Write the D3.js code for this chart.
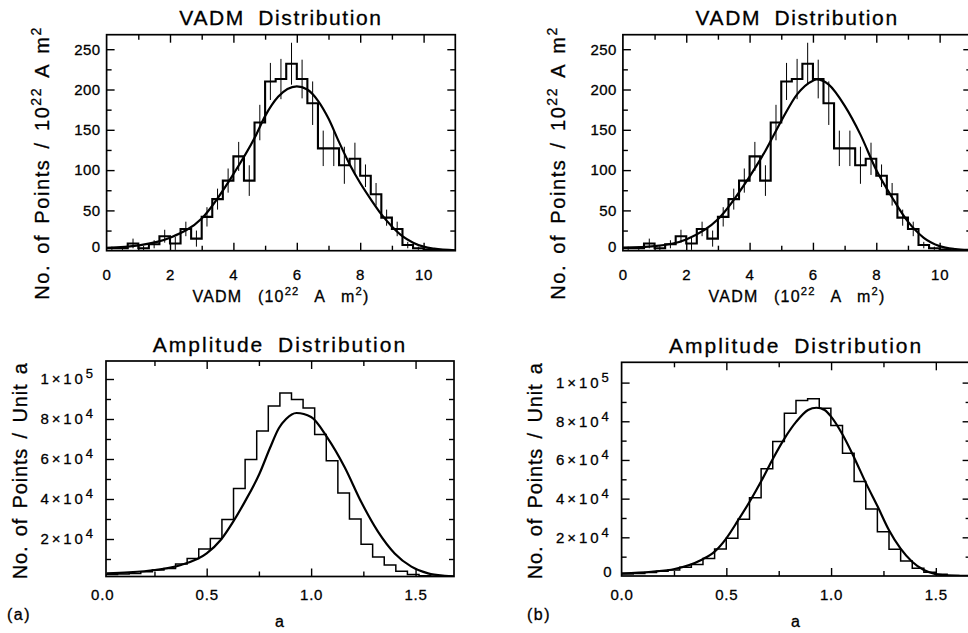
<!DOCTYPE html>
<html>
<head>
<meta charset="utf-8">
<script src="https://cdn.jsdelivr.net/npm/d3@7"></script>
<style>
  body { margin: 0; background: #fff; }
  svg text { font-family: "Liberation Sans", Arial, Helvetica, sans-serif; fill: #000; stroke: #000; stroke-width: 0.3px; }
</style>
</head>
<body>
<div id="chart"></div>
<script>
// ---- data ----
// VADM histogram (same in both top panels), bins of 1/3 from 0 to 11
var vadmBinStart = 0;
var vadmBinWidth = 1 / 3;
var vadmCounts = [3, 3, 9, 3, 8, 18, 9, 27, 15, 42, 64, 87, 117, 87, 159, 210, 213, 232, 213, 183,
                  127, 127, 106, 114, 93, 70, 41, 27, 7, 3, 1.5, 0.5, 0];
var vadmErrors = [2, 2, 6, 3, 5, 8, 8, 9, 10, 12, 13, 15, 18, 19, 22, 23, 25, 26, 24, 27,
                  22, 22, 23, 20, 14, 14, 10, 9, 4, 2, 1, 1, 0];

// fitted curves, top panels
var vadmFitA = [[0, 3.5], [1, 6.5], [2, 16], [3, 40], [4, 95], [4.67, 140], [5, 167], [5.41, 191],
                [6, 204], [6.33, 200], [6.67, 186], [7, 164], [7.33, 135], [7.67, 107], [8, 84],
                [8.33, 64], [8.67, 45], [9, 30], [9.33, 18], [9.67, 10], [10, 5], [10.33, 2.5], [11, 0.5]];
var vadmFitB = [[0, 3.7], [1, 5.7], [2, 14], [3, 39], [4, 92], [4.5, 124], [5, 161], [5.5, 194],
                [6, 211], [6.11, 212.5], [6.5, 206], [7, 180], [7.5, 144], [8, 100], [8.5, 66],
                [9, 36], [9.5, 16], [10, 5.7], [10.5, 2], [11, 0.8]];

// amplitude histograms, 30 bins
var ampBinStartA = 0.018, ampBinWidthA = 0.0555;
var ampCountsA = [2300, 2500, 2800, 3600, 4500, 5300, 7500, 10300, 15000, 20300, 29800, 45300, 59800,
                  74000, 86500, 93000, 89800, 85500, 72200, 59100, 43000, 30000, 17400, 11000, 7000,
                  3900, 2200, 1650, 1350, 1300];
var ampBinStartB = 0, ampBinWidthB = 0.0555;
var ampCountsB = [1000, 1300, 1800, 2400, 3100, 4500, 6000, 9100, 14000, 19500, 29300, 40500, 55500,
                  69500, 84200, 90700, 91600, 86700, 77800, 63500, 48800, 34700, 22900, 13800, 7800,
                  4000, 1900, 900, 300, 0];

var ampFitA = [[0.021, 2800], [0.128, 3300], [0.253, 4500], [0.377, 7000], [0.5, 12800], [0.567, 19500],
               [0.627, 28700], [0.683, 38700], [0.752, 52500], [0.803, 65500], [0.846, 75500],
               [0.88, 80000], [0.93, 83000], [1.0, 81000], [1.08, 70300], [1.16, 56000], [1.24, 38500],
               [1.32, 23700], [1.4, 12800], [1.48, 6200], [1.56, 2800], [1.64, 1600], [1.684, 1300]];
var ampFitB = [[0.002, 1400], [0.142, 2200], [0.253, 3600], [0.38, 8300], [0.444, 12600], [0.5, 19500],
               [0.555, 28600], [0.611, 38400], [0.667, 49100], [0.723, 60800], [0.778, 71200],
               [0.834, 79800], [0.89, 85800], [0.93, 87000], [0.969, 85800], [1.0, 82400],
               [1.056, 72900], [1.112, 60800], [1.167, 47900], [1.223, 35800], [1.276, 23800],
               [1.331, 14300], [1.387, 7400], [1.443, 3100], [1.499, 1000], [1.574, 200], [1.666, 0]];

// ticks
var vadmMajor = [0, 2, 4, 6, 8, 10];
var vadmMinor = [1, 3, 5, 7, 9];
var countMajor = [0, 50, 100, 150, 200, 250];
var countMinor = [25, 75, 125, 175, 225];
var aMajor = [0, 0.5, 1.0, 1.5];
var aMinor = [0.25, 0.75, 1.25];
var ampMajor = [0, 20000, 40000, 60000, 80000, 100000];
var ampMinor = [10000, 30000, 50000, 70000, 90000];

var W = 968, H = 633;
var svg = d3.select("#chart").append("svg")
  .attr("width", W)
  .attr("height", H);
svg.append("rect").attr("width", W).attr("height", H).attr("fill", "#fff");

// text with superscripts: parts = [[string, isSup], ...]
function richText(sel, parts, size) {
  var raised = false;
  parts.forEach(function(p) {
    var ts = sel.append("tspan").text(p[0]);
    if (p[1]) {
      ts.attr("font-size", size * 0.7);
      if (!raised) { ts.attr("dy", -0.42 * size); raised = true; }
    } else if (raised) {
      ts.attr("dy", 0.42 * size);
      raised = false;
    }
  });
}

function plainY(t, d) {
  t.attr("letter-spacing", 0.4).text(d);
}

function ampLabel(t, d) {
  if (d === 0) { t.text("0"); return; }
  var e = Math.floor(Math.log10(d) + 1e-9);
  var m = Math.round(d / Math.pow(10, e));
  t.attr("letter-spacing", 2.9);
  t.append("tspan").text(m + "×10");
  t.append("tspan").attr("dy", -6).attr("font-size", 13).text(e);
}

function drawPanel(p) {
  var x = d3.scaleLinear().domain(p.xDomain).range([p.left, p.right]);
  var y = d3.scaleLinear().domain(p.yDomain).range([p.bottom, p.top]);
  var g = svg.append("g");

  g.append("clipPath").attr("id", "clip-" + p.id)
    .append("rect")
    .attr("x", p.left).attr("y", p.top)
    .attr("width", p.right - p.left).attr("height", p.bottom - p.top);
  var plot = g.append("g").attr("clip-path", "url(#clip-" + p.id + ")");

  // histogram as steps
  var steps = p.counts.map(function(c, i) { return [p.binStart + i * p.binWidth, c]; });
  steps.push([p.binStart + p.counts.length * p.binWidth, p.counts[p.counts.length - 1]]);
  plot.append("path")
    .datum(steps)
    .attr("fill", "none")
    .attr("stroke", "#000")
    .attr("stroke-width", p.histWidth)
    .attr("d", d3.line()
      .x(d => x(d[0]))
      .y(d => y(Math.max(d[1], p.yDomain[0])))
      .curve(d3.curveStepAfter));

  // error bars
  if (p.errors) {
    plot.selectAll("line.err")
      .data(p.counts.map((c, i) => ({c: c, e: p.errors[i], x: p.binStart + (i + 0.5) * p.binWidth})))
      .enter().append("line")
      .attr("class", "err")
      .attr("x1", d => x(d.x)).attr("x2", d => x(d.x))
      .attr("y1", d => y(d.c - d.e)).attr("y2", d => y(d.c + d.e))
      .attr("stroke", "#000")
      .attr("stroke-width", 1);
  }

  // fitted curve
  plot.append("path")
    .datum(p.fit)
    .attr("fill", "none")
    .attr("stroke", "#000")
    .attr("stroke-width", 2.2)
    .attr("d", d3.line()
      .x(d => x(d[0]))
      .y(d => y(d[1]))
      .curve(d3.curveMonotoneX));

  // inward tick marks on all four sides
  var inX = v => v > p.xDomain[0] && v < p.xDomain[1];
  var inY = v => v > p.yDomain[0] && v < p.yDomain[1];
  function marks(axis, vals, len, tr) {
    var a = g.append("g")
      .attr("transform", tr)
      .call(axis.tickValues(vals).tickSize(-len).tickFormat(""));
    a.select(".domain").remove();
    a.selectAll(".tick line").attr("stroke", "#000").attr("stroke-width", 1.4);
  }
  [[p.xMajor, 8], [p.xMinor, 5]].forEach(function(m) {
    var v = m[0].filter(inX);
    marks(d3.axisBottom(x), v, m[1], `translate(0,${p.bottom})`);
    marks(d3.axisTop(x), v, m[1], `translate(0,${p.top})`);
  });
  [[p.yMajor, 8], [p.yMinor, 5]].forEach(function(m) {
    var v = m[0].filter(inY);
    marks(d3.axisLeft(y), v, m[1], `translate(${p.left},0)`);
    marks(d3.axisRight(y), v, m[1], `translate(${p.right},0)`);
  });

  // frame
  g.append("rect")
    .attr("x", p.left).attr("y", p.top)
    .attr("width", p.right - p.left).attr("height", p.bottom - p.top)
    .attr("fill", "none")
    .attr("stroke", "#000")
    .attr("stroke-width", 1.7);

  // tick labels
  var xl = g.append("g")
    .attr("transform", `translate(0,${p.bottom})`)
    .call(d3.axisBottom(x).tickValues(p.xLabels).tickSize(0).tickPadding(p.xPad).tickFormat(p.xFormat));
  xl.select(".domain").remove();
  xl.attr("font-family", null);
  xl.selectAll(".tick text")
    .attr("font-size", 15)
    .attr("letter-spacing", 0.8);

  var yl = g.append("g")
    .attr("transform", `translate(${p.left},0)`)
    .call(d3.axisLeft(y).tickValues(p.yLabels).tickSize(0).tickPadding(p.yPad).tickFormat(""));
  yl.select(".domain").remove();
  yl.attr("font-family", null);
  yl.selectAll(".tick text").each(function(d) {
    var t = d3.select(this).attr("font-size", 15);
    p.yFormat(t, d);
    if (d === p.yDomain[0]) t.attr("y", -4);
  });

  // titles
  var cx = (p.left + p.right) / 2;
  g.append("text")
    .attr("x", cx).attr("y", p.top - 9.5)
    .attr("text-anchor", "middle")
    .attr("font-size", 21)
    .attr("letter-spacing", p.titleLS)
    .attr("word-spacing", 6)
    .text(p.title);

  var xt = g.append("text")
    .attr("x", cx).attr("y", p.xTitleY)
    .attr("text-anchor", "middle")
    .attr("font-size", 16)
    .attr("letter-spacing", 1.2)
    .attr("word-spacing", 10);
  richText(xt, p.xTitle, 16);

  var yt = g.append("text")
    .attr("transform", `translate(${p.left - p.yTitleOff},${p.yTitleY}) rotate(-90)`)
    .attr("text-anchor", "middle")
    .attr("font-size", 20)
    .attr("letter-spacing", p.yTitleLS)
    .attr("word-spacing", 3);
  richText(yt, p.yTitle, 20);
}

var vadmX = [["VADM (10", false], ["22", true], [" A m", false], ["2", true], [")", false]];
var vadmY = [["No. of Points / 10", false], ["22", true], [" A m", false], ["2", true]];
var ampY = [["No. of Points / Unit a", false]];

var topBase = {
  top: 34.7, bottom: 250.7, xDomain: [0, 11], yDomain: [0, 268],
  binStart: vadmBinStart, binWidth: vadmBinWidth, counts: vadmCounts, errors: vadmErrors,
  histWidth: 2.1,
  xMajor: vadmMajor, xMinor: vadmMinor, yMajor: countMajor, yMinor: countMinor,
  xLabels: vadmMajor, xFormat: d3.format("d"), xPad: 19,
  yLabels: countMajor, yFormat: plainY, yPad: 6.2,
  title: "VADM Distribution", titleLS: 1.6, xTitle: vadmX, xTitleY: 301.7,
  yTitle: vadmY, yTitleOff: 57.5, yTitleY: 163, yTitleLS: 1.6
};

var botBase = {
  top: 361, bottom: 576.5,
  histWidth: 1.5,
  xMajor: aMajor, xMinor: aMinor, yMajor: ampMajor, yMinor: ampMinor,
  xLabels: aMajor, xFormat: d3.format(".1f"), xPad: 13.3,
  yFormat: ampLabel, yPad: 10,
  title: "Amplitude Distribution", titleLS: 2.0, xTitle: [["a", false]], xTitleY: 627,
  yTitle: ampY, yTitleOff: 79.5, yTitleY: 470.8, yTitleLS: 0.85
};

drawPanel(Object.assign({}, topBase, {id: "tl", left: 106.6, right: 455.3, fit: vadmFitA}));
drawPanel(Object.assign({}, topBase, {id: "tr", left: 622.9, right: 971.3, fit: vadmFitB}));
drawPanel(Object.assign({}, botBase, {
  id: "bl", left: 106, right: 454, xDomain: [0.018, 1.684], yDomain: [1250, 109000],
  binStart: ampBinStartA, binWidth: ampBinWidthA, counts: ampCountsA, fit: ampFitA,
  yLabels: ampMajor.filter(v => v > 1250)
}));
drawPanel(Object.assign({}, botBase, {
  id: "br", left: 621.6, right: 970.6, top: 362.3, bottom: 576, xDomain: [0, 1.666], yDomain: [0, 110500],
  binStart: ampBinStartB, binWidth: ampBinWidthB, counts: ampCountsB, fit: ampFitB,
  yLabels: ampMajor
}));

// panel letters
svg.append("text").attr("x", 7).attr("y", 620).attr("font-size", 16).attr("letter-spacing", 1.5).text("(a)");
svg.append("text").attr("x", 527).attr("y", 620).attr("font-size", 16).attr("letter-spacing", 1.5).text("(b)");
</script>
</body>
</html>
